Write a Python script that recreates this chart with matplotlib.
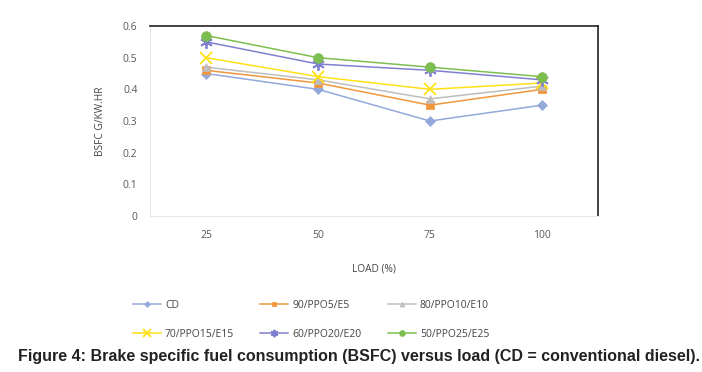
import matplotlib
matplotlib.use("Agg")
import matplotlib.pyplot as plt
import numpy as np

loads = ["25", "50", "75", "100"]
series_names = ["CD", "90/PPO5/E5", "80/PPO10/E10", "70/PPO15/E15", "60/PPO20/E20", "50/PPO25/E25"]
cd = [0.45, 0.40, 0.30, 0.35]
ppo5 = [0.46, 0.42, 0.35, 0.40]
ppo10 = [0.47, 0.43, 0.37, 0.41]
ppo15 = [0.50, 0.44, 0.40, 0.42]
ppo20 = [0.55, 0.48, 0.46, 0.43]
ppo25 = [0.57, 0.50, 0.47, 0.44]
yticks = [0, 0.1, 0.2, 0.3, 0.4, 0.5, 0.6]

plt.rcParams['font.family'] = ['Open Sans', 'DejaVu Sans']

data = [cd, ppo5, ppo10, ppo15, ppo20, ppo25]
colors = ["#93A9DA", "#F0963C", "#BEBEBE", "#FFE014", "#8080D0", "#7DBE50"]
markers = ["D", "s", "^", "x", (6, 2, 0), "o"]
msizes = [5, 6, 6, 9, 9, 7]

fig = plt.figure(figsize=(7.02, 3.72), dpi=100)
ax = fig.add_axes([150/702, 1-216/372, 448/702, 190/372])
x = np.arange(len(loads))
for vals, name, c, m, ms in zip(data, series_names, colors, markers, msizes):
    ax.plot(x, vals, color=c, marker=m, markersize=ms, linewidth=1.1, label=name,
            markeredgewidth=1.3 if m in ("x",) or isinstance(m, tuple) else 0.5)

ax.set_xlim(-0.5, 3.5)
ax.set_ylim(0, 0.6)
ax.set_xticks(x)
ax.set_xticklabels(loads)
ax.set_yticks(yticks)
ax.set_yticklabels([f"{v:g}" for v in yticks])
ax.tick_params(length=0, labelsize=7.5, colors="#595959", pad=9)
ax.tick_params(axis="x", pad=10)
for s in ["top", "right"]:
    ax.spines[s].set_color("#222222")
    ax.spines[s].set_linewidth(1.2)
for s in ["left", "bottom"]:
    ax.spines[s].set_color("#e6e6e6")
ax.set_ylabel("BSFC G/KW.HR", fontsize=7.3, color="#444444", labelpad=12)
ax.set_xlabel("LOAD (%)", fontsize=7.3, color="#444444", labelpad=16)

handles, labels = ax.get_legend_handles_labels()
order = [0, 3, 1, 4, 2, 5]
fig.legend([handles[i] for i in order], [labels[i] for i in order],
           loc="center", bbox_to_anchor=(311/702, 1-320/372), ncol=3,
           frameon=False, fontsize=7.5, columnspacing=2.5, handlelength=2.7,
           handletextpad=0.4, labelspacing=1.75, markerscale=0.6, labelcolor="#444444")

fig.text(18/702, 1-357/372, "Figure 4: Brake specific fuel consumption (BSFC) versus load (CD = conventional diesel).",
         ha="left", va="center", fontsize=11.5, fontweight="bold", color="#222222",
         family=["Liberation Sans", "DejaVu Sans"])

fig.savefig("out.png", dpi=100)
